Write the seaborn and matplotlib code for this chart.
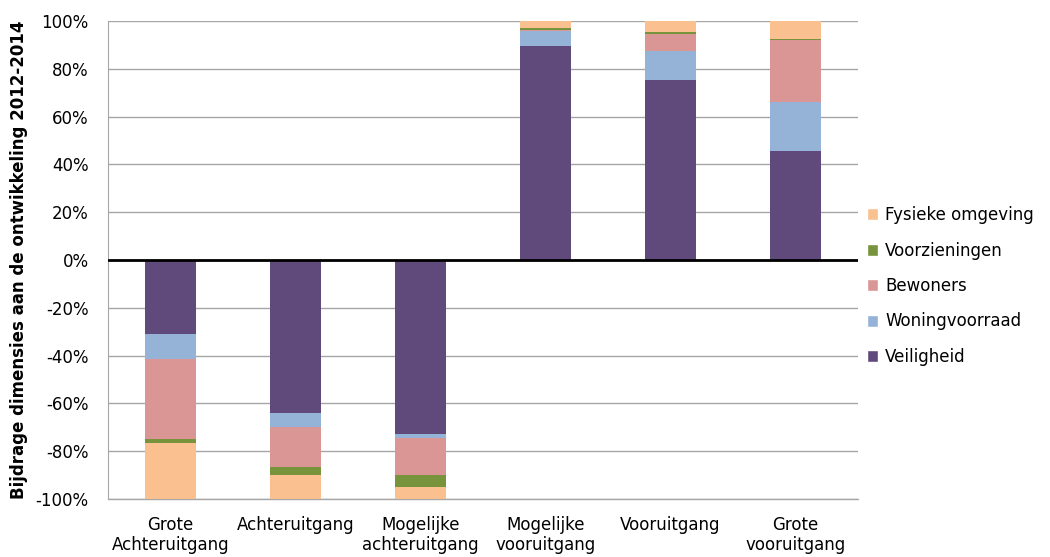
import numpy as np
import pandas as pd
import seaborn as sns
import matplotlib.pyplot as plt
from matplotlib.ticker import PercentFormatter
from matplotlib.patches import Patch

categories = ["Grote\nAchteruitgang", "Achteruitgang", "Mogelijke\nachteruitgang",
              "Mogelijke\nvooruitgang", "Vooruitgang", "Grote\nvooruitgang"]

# stacked from zero outwards
veiligheid = [-31.0, -64.2, -72.8, 89.5, 75.5, 45.7]
woningvoorraad = [-10.5, -5.6, -1.5, 6.5, 12.0, 20.4]
bewoners = [-33.5, -17.0, -15.6, 0.3, 7.0, 25.8]
voorzieningen = [-1.5, -3.2, -5.2, 0.7, 0.8, 0.7]
fysieke_omgeving = [-23.5, -10.0, -4.9, 3.0, 4.7, 7.4]

series = {
    "Veiligheid": veiligheid,
    "Woningvoorraad": woningvoorraad,
    "Bewoners": bewoners,
    "Voorzieningen": voorzieningen,
    "Fysieke omgeving": fysieke_omgeving,
}
colors = {
    "Veiligheid": "#604A7B",
    "Woningvoorraad": "#95B3D7",
    "Bewoners": "#D99694",
    "Voorzieningen": "#77933C",
    "Fysieke omgeving": "#FAC090",
}

sns.set_style("white")
plt.rcParams['font.family'] = ['DejaVu Sans']
plt.rcParams['axes.unicode_minus'] = False
plt.rcParams['text.color'] = 'black'
plt.rcParams['axes.labelcolor'] = 'black'

fig = plt.figure(figsize=(10.5, 5.57), dpi=100)
ax = fig.add_axes([108 / 1050, 58 / 557, 750 / 1050, 478 / 557])

bottom = np.zeros(len(categories))
for name, vals in series.items():
    vals = np.array(vals)
    df = pd.DataFrame({"cat": categories, "val": vals})
    sns.barplot(data=df, x="cat", y="val", bottom=bottom, color=colors[name],
                width=0.41, saturation=1, ax=ax, zorder=3, linewidth=0)
    bottom = bottom + vals

ax.set_xlim(-0.5, 5.5)
ax.set_ylim(-100, 100)
ax.set_yticks(np.arange(-100, 101, 20))
ax.yaxis.set_major_formatter(PercentFormatter(decimals=0))
ax.grid(axis="y", color="#a6a6a6", linewidth=1, zorder=0)
ax.axhline(-100, color="#a6a6a6", linewidth=1, zorder=2, clip_on=False)
ax.axhline(0, color="black", linewidth=2, zorder=4)
for s in ["top", "right", "bottom"]:
    ax.spines[s].set_visible(False)
ax.spines["left"].set_color("#a6a6a6")
ax.tick_params(axis="y", length=0, labelsize=12, colors="#000000", pad=14)
ax.tick_params(axis="x", length=0, labelsize=12, colors="#000000", pad=12)
ax.set_xlabel("")
ax.set_ylabel("Bijdrage dimensies aan de ontwikkeling 2012-2014",
              fontsize=12, fontweight="bold", labelpad=5)

handles = [Patch(facecolor=colors[n], label=n) for n in
           ["Fysieke omgeving", "Voorzieningen", "Bewoners", "Woningvoorraad", "Veiligheid"]]
fig.legend(handles=handles, loc="center left", bbox_to_anchor=(860 / 1050, 271 / 557),
           frameon=False, fontsize=12, handlelength=0.7, handleheight=0.7,
           handletextpad=0.4, labelspacing=1.05, borderaxespad=0)

fig.savefig("out.png", dpi=100)
